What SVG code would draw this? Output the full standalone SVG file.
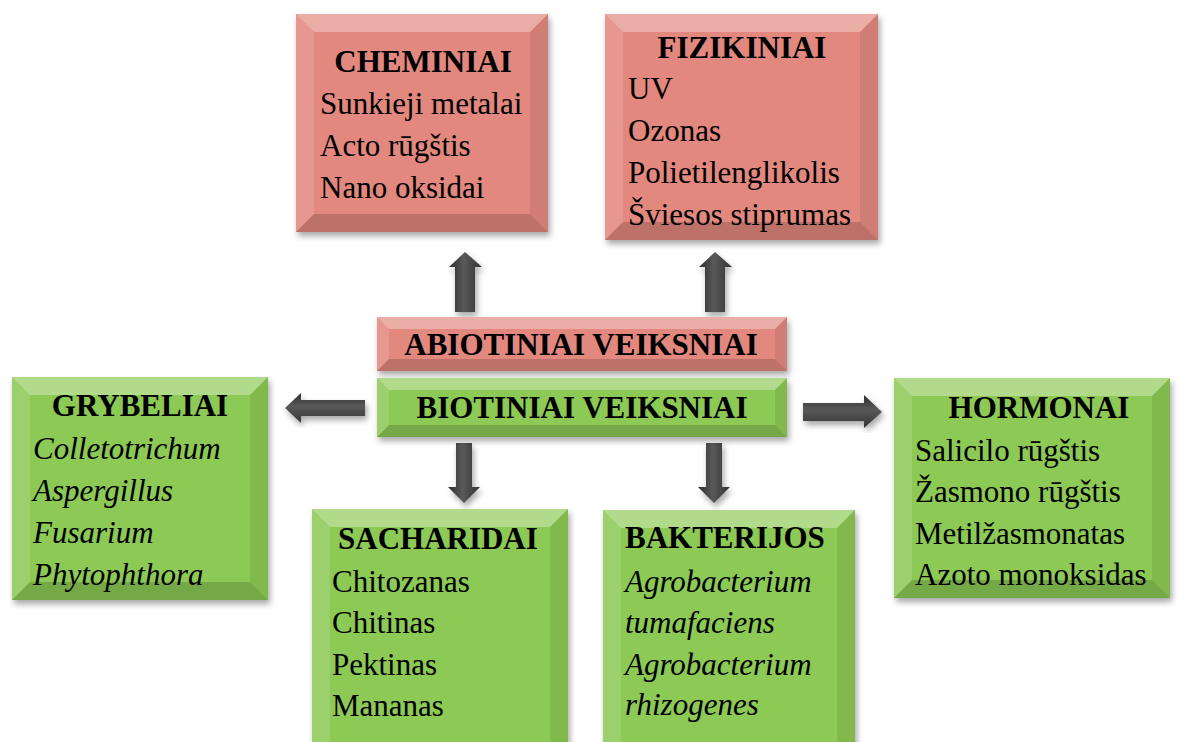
<svg xmlns="http://www.w3.org/2000/svg" width="1178" height="742" viewBox="0 0 1178 742">
<defs>
<filter id="sh" x="-10%" y="-10%" width="125%" height="125%">
<feDropShadow dx="2" dy="4" stdDeviation="3" flood-color="#000" flood-opacity="0.35"/>
</filter>
<linearGradient id="gv" x1="0" y1="0" x2="1" y2="0">
<stop offset="0" stop-color="#2e2e2e"/><stop offset="0.45" stop-color="#595959"/><stop offset="1" stop-color="#333"/>
</linearGradient>
<linearGradient id="gh" x1="0" y1="0" x2="0" y2="1">
<stop offset="0" stop-color="#2e2e2e"/><stop offset="0.45" stop-color="#595959"/><stop offset="1" stop-color="#333"/>
</linearGradient>
<style>
.red{fill:#E2887E}
.grn{fill:#8CC955}
.bt{fill:#fff;fill-opacity:0.32}
.bl{fill:#fff;fill-opacity:0.14}
.br{fill:#000;fill-opacity:0.08}
.bb{fill:#000;fill-opacity:0.16}
text{font-family:"Liberation Serif","Times New Roman",serif;font-size:31px;fill:#000}
.h{font-weight:bold}
.c{text-anchor:middle}
.i{font-style:italic}
.arv{fill:url(#gv);filter:url(#sh)}
.arh{fill:url(#gh);filter:url(#sh)}
</style>
</defs>

<g id="connectors">
<path class="arv" d="M455,312 L455,267 L449,267 L465,252 L482,267 L475,267 L475,312 Z"/>
<path class="arv" d="M705,312 L705,267 L699,267 L715,252 L732,267 L725,267 L725,312 Z"/>
<path class="arv" d="M456,443 L456,487 L448,487 L464,503 L480,487 L472,487 L472,443 Z"/>
<path class="arv" d="M706,443 L706,487 L698,487 L714,503 L730,487 L722,487 L722,443 Z"/>
<path class="arh" d="M365,400 L301,400 L301,393 L285,408 L301,423 L301,416 L365,416 Z"/>
<path class="arh" d="M803,403 L864,403 L864,395 L882,412 L864,428 L864,421 L803,421 Z"/>
</g>

<g id="cheminiai" filter="url(#sh)">
<rect class="red" x="296" y="14" width="252" height="218"/>
<polygon class="bt" points="296,14 548,14 530,32 314,32"/>
<polygon class="bl" points="296,14 314,32 314,214 296,232"/>
<polygon class="br" points="548,14 548,232 530,214 530,32"/>
<polygon class="bb" points="296,232 548,232 530,214 314,214"/>
</g>
<g id="cheminiai-text">
<text class="h c" x="423" y="72">CHEMINIAI</text>
<text x="320" y="114">Sunkieji metalai</text>
<text x="320" y="156">Acto rūgštis</text>
<text x="320" y="198">Nano oksidai</text>
</g>

<g id="fizikiniai" filter="url(#sh)">
<rect class="red" x="605" y="14" width="273" height="226"/>
<polygon class="bt" points="605,14 878,14 860,32 623,32"/>
<polygon class="bl" points="605,14 623,32 623,222 605,240"/>
<polygon class="br" points="878,14 878,240 860,222 860,32"/>
<polygon class="bb" points="605,240 878,240 860,222 623,222"/>
</g>
<g id="fizikiniai-text">
<text class="h c" x="742" y="58">FIZIKINIAI</text>
<text x="628" y="99">UV</text>
<text x="628" y="141">Ozonas</text>
<text x="628" y="183">Polietilenglikolis</text>
<text x="628" y="225">Šviesos stiprumas</text>
</g>

<g id="abiotiniai" filter="url(#sh)">
<rect class="red" x="377" y="317" width="410" height="54"/>
<polygon class="bt" points="377,317 787,317 775,329 389,329"/>
<polygon class="bl" points="377,317 389,329 389,359 377,371"/>
<polygon class="br" points="787,317 787,371 775,359 775,329"/>
<polygon class="bb" points="377,371 787,371 775,359 389,359"/>
</g>
<text class="h c" x="581" y="355">ABIOTINIAI VEIKSNIAI</text>

<g id="biotiniai" filter="url(#sh)">
<rect class="grn" x="377" y="378" width="410" height="59"/>
<polygon class="bt" points="377,378 787,378 775,390 389,390"/>
<polygon class="bl" points="377,378 389,390 389,425 377,437"/>
<polygon class="br" points="787,378 787,437 775,425 775,390"/>
<polygon class="bb" points="377,437 787,437 775,425 389,425"/>
</g>
<text class="h c" x="582" y="418">BIOTINIAI VEIKSNIAI</text>

<g id="grybeliai" filter="url(#sh)">
<rect class="grn" x="12" y="377" width="256" height="223"/>
<polygon class="bt" points="12,377 268,377 250,395 30,395"/>
<polygon class="bl" points="12,377 30,395 30,582 12,600"/>
<polygon class="br" points="268,377 268,600 250,582 250,395"/>
<polygon class="bb" points="12,600 268,600 250,582 30,582"/>
</g>
<g id="grybeliai-text">
<text class="h c" x="140" y="416">GRYBELIAI</text>
<text class="i" x="33" y="459">Colletotrichum</text>
<text class="i" x="33" y="501">Aspergillus</text>
<text class="i" x="33" y="543">Fusarium</text>
<text class="i" x="33" y="585">Phytophthora</text>
</g>

<g id="hormonai" filter="url(#sh)">
<rect class="grn" x="894" y="378" width="276" height="220"/>
<polygon class="bt" points="894,378 1170,378 1152,396 912,396"/>
<polygon class="bl" points="894,378 912,396 912,580 894,598"/>
<polygon class="br" points="1170,378 1170,598 1152,580 1152,396"/>
<polygon class="bb" points="894,598 1170,598 1152,580 912,580"/>
</g>
<g id="hormonai-text">
<text class="h c" x="1039" y="418">HORMONAI</text>
<text x="915" y="461">Salicilo rūgštis</text>
<text x="915" y="502">Žasmono rūgštis</text>
<text x="915" y="544">Metilžasmonatas</text>
<text x="915" y="585">Azoto monoksidas</text>
</g>

<g id="sacharidai" filter="url(#sh)">
<rect class="grn" x="312" y="509" width="256" height="250"/>
<polygon class="bt" points="312,509 568,509 550,527 330,527"/>
<polygon class="bl" points="312,509 330,527 330,741 312,759"/>
<polygon class="br" points="568,509 568,759 550,741 550,527"/>
</g>
<g id="sacharidai-text">
<text class="h" x="338" y="549">SACHARIDAI</text>
<text x="332" y="592">Chitozanas</text>
<text x="332" y="633">Chitinas</text>
<text x="332" y="675">Pektinas</text>
<text x="332" y="716">Mananas</text>
</g>

<g id="bakterijos" filter="url(#sh)">
<rect class="grn" x="603" y="510" width="252" height="250"/>
<polygon class="bt" points="603,510 855,510 837,528 621,528"/>
<polygon class="bl" points="603,510 621,528 621,742 603,760"/>
<polygon class="br" points="855,510 855,760 837,742 837,528"/>
</g>
<g id="bakterijos-text">
<text class="h" x="625" y="548">BAKTERIJOS</text>
<text class="i" x="625" y="592">Agrobacterium</text>
<text class="i" x="625" y="633">tumafaciens</text>
<text class="i" x="625" y="675">Agrobacterium</text>
<text class="i" x="625" y="715">rhizogenes</text>
</g>
</svg>
